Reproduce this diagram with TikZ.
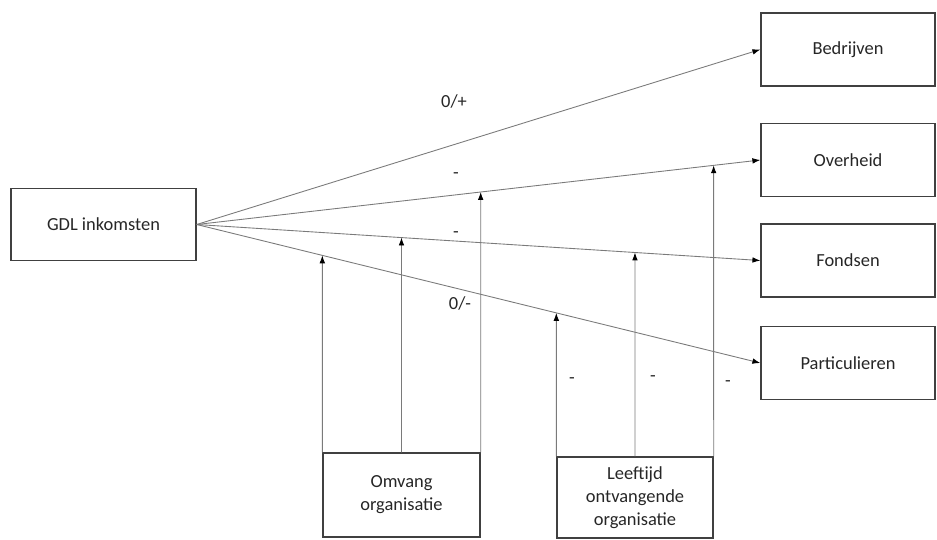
\documentclass[tikz,border=0pt]{standalone}
\usepackage{fontspec}
\setmainfont{Carlito}
\usetikzlibrary{calc,positioning,arrows.meta}
\definecolor{boxline}{HTML}{404040}
\definecolor{arrline}{HTML}{7A7A7A}

\begin{document}
\begin{tikzpicture}[x=0.02cm,y=-0.02cm,
  blok/.style={draw=boxline,line width=0.8pt,align=center,inner sep=0pt,
    font=\fontsize{10.5}{13}\selectfont,text=black!85},
  pijl/.style={draw=arrline,line width=0.5pt,-{Latex[black,length=4.5pt,width=3.2pt]}},
  teken/.style={font=\fontsize{10.5}{13}\selectfont,text=black!85}]
\useasboundingbox (0,0) rectangle (937,539);
% bronnen van inkomsten
\node[blok,minimum width=3.7cm,minimum height=1.44cm] (gdl) at (103.5,224.5) {GDL inkomsten};
\node[blok,minimum width=3.48cm,minimum height=1.46cm] (bed) at (848,49.5) {Bedrijven};
\node[blok,minimum width=3.48cm,minimum height=1.46cm] (ove) at (848,160) {Overheid};
\node[blok,minimum width=3.48cm,minimum height=1.46cm] (fon) at (848,260.5) {Fondsen};
\node[blok,minimum width=3.48cm,minimum height=1.46cm] (par) at (848,363) {Particulieren};
% moderatoren
\node[blok,minimum width=3.14cm,minimum height=1.68cm] (omv) at (401.5,495) {Omvang\\organisatie};
\node[blok,minimum width=3.12cm,minimum height=1.62cm] (lft) at (635,497.5) {Leeftijd\\ontvangende\\organisatie};

\draw[pijl] (gdl.east) -- (bed.west);
\draw[pijl] (gdl.east) -- (ove.west);
\draw[pijl] (gdl.east) -- (fon.west);
\draw[pijl] (gdl.east) -- (par.west);

\draw[pijl] (omv.north west) -- (intersection cs: first line={(gdl.east)--(par.west)}, second line={(omv.north west)--(omv.south west)});
\draw[pijl] (omv.north) -- (intersection cs: first line={(gdl.east)--(fon.west)}, second line={(omv.north)--(omv.south)});
\draw[pijl] (omv.north east) -- (intersection cs: first line={(gdl.east)--(ove.west)}, second line={(omv.north east)--(omv.south east)});
\draw[pijl] (lft.north west) -- (intersection cs: first line={(gdl.east)--(par.west)}, second line={(lft.north west)--(lft.south west)});
\draw[pijl] (lft.north) -- (intersection cs: first line={(gdl.east)--(fon.west)}, second line={(lft.north)--(lft.south)});
\draw[pijl] (lft.north east) -- (intersection cs: first line={(gdl.east)--(ove.west)}, second line={(lft.north east)--(lft.south east)});

% tekens
\node[teken] (t1) at (454,101) {0/+};
\node[teken] (t2) at (456,176) {-};
\node[teken] (t3) at (456,235) {-};
\node[teken] (t4) at (460,303) {0/-};
\node[teken] (t5) at (572,381) {-};
\node[teken] (t6) at (653,379) {-};
\node[teken] (t7) at (728,384) {-};
\end{tikzpicture}
\end{document}
